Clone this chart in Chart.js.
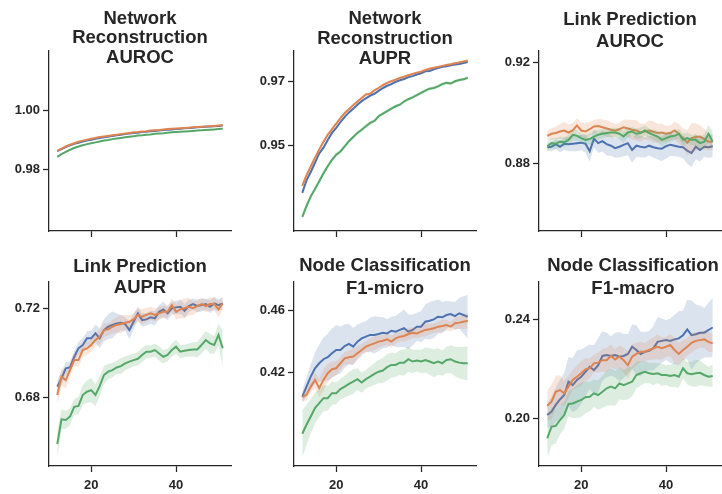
<!DOCTYPE html>
<html>
<head>
<meta charset="utf-8">
<script src="https://cdn.jsdelivr.net/npm/chart.js@4.4.1/dist/chart.umd.min.js"></script>
<style>
html,body{margin:0;padding:0;background:#fff;width:722px;height:494px;overflow:hidden;}
.panel{position:absolute;}
</style>
</head>
<body>
<script>
// ---------------- DATA ----------------
const xValues = [12,13,14,15,16,17,18,19,20,21,22,23,24,25,26,27,28,29,30,31,32,33,34,35,36,37,38,39,40,41,42,43,44,45,46,47,48,49,50,51];
const xTicks = [20, 40];

// Network Reconstruction AUROC
const nrAurocBlue = [.9861,.9868,.9875,.9881,.9886,.9890,.9894,.9897,.9900,.9903,
 .9906,.9908,.9910,.9913,.9915,.9917,.9919,.9921,.9923,.9924,
 .9926,.9927,.9929,.9930,.9931,.9933,.9934,.9935,.9936,.9937,
 .9939,.9940,.9941,.9942,.9943,.9944,.9945,.9946,.9947,.9948];
const nrAurocOrange = [.9862,.9870,.9877,.9883,.9888,.9893,.9897,.9900,.9903,.9906,
 .9909,.9911,.9913,.9915,.9917,.9919,.9921,.9923,.9925,.9926,
 .9928,.9929,.9931,.9932,.9933,.9935,.9936,.9937,.9938,.9939,
 .9940,.9941,.9942,.9943,.9944,.9945,.9946,.9947,.9948,.9949];
const nrAurocGreen = [.9842,.9851,.9859,.9866,.9872,.9877,.9881,.9885,.9888,.9891,
 .9894,.9897,.9899,.9902,.9904,.9906,.9908,.9910,.9912,.9914,
 .9915,.9917,.9918,.9920,.9921,.9922,.9924,.9925,.9926,.9927,
 .9928,.9929,.9930,.9931,.9932,.9933,.9934,.9935,.9936,.9937];
const nrAurocBlueHw = [.0003,.0003,.0003,.0002,.0002,.0002,.0002,.0002,.0002,.0002,
 .0002,.0002,.0002,.0002,.0002,.0002,.0002,.0002,.0002,.0002,
 .0001,.0001,.0001,.0001,.0001,.0001,.0001,.0001,.0001,.0001,
 .0001,.0001,.0001,.0001,.0001,.0001,.0001,.0001,.0001,.0001];
const nrAurocOrangeHw = [.0003,.0003,.0003,.0002,.0002,.0002,.0002,.0002,.0002,.0002,
 .0002,.0002,.0002,.0002,.0002,.0002,.0002,.0002,.0002,.0002,
 .0001,.0001,.0001,.0001,.0001,.0001,.0001,.0001,.0001,.0001,
 .0001,.0001,.0001,.0001,.0001,.0001,.0001,.0001,.0001,.0001];
const nrAurocGreenHw = [.0004,.0003,.0003,.0003,.0003,.0002,.0002,.0002,.0002,.0002,
 .0002,.0002,.0002,.0002,.0002,.0002,.0002,.0002,.0002,.0002,
 .0002,.0001,.0001,.0001,.0001,.0001,.0001,.0001,.0001,.0001,
 .0001,.0001,.0001,.0001,.0001,.0001,.0001,.0001,.0001,.0001];
const nrAurocTicks = [0.98, 1.00];

// Network Reconstruction AUPR
const nrAuprBlue = [.9353,.9392,.9418,.9447,.9476,.9494,.9518,.9540,.9556,.9574,
 .9590,.9604,.9615,.9628,.9639,.9648,.9656,.9662,.9671,.9680,
 .9687,.9692,.9699,.9704,.9708,.9714,.9717,.9722,.9726,.9732,
 .9733,.9738,.9742,.9746,.9748,.9751,.9753,.9755,.9758,.9761];
const nrAuprOrange = [.9375,.9408,.9435,.9463,.9488,.9512,.9534,.9552,.9569,.9586,
 .9602,.9614,.9626,.9638,.9649,.9660,.9662,.9673,.9680,.9689,
 .9696,.9701,.9706,.9711,.9715,.9720,.9724,.9728,.9731,.9736,
 .9740,.9743,.9746,.9749,.9752,.9754,.9757,.9760,.9763,.9766];
const nrAuprGreen = [.9278,.9312,.9342,.9365,.9389,.9414,.9436,.9456,.9472,.9482,
 .9498,.9514,.9527,.9540,.9550,.9561,.9571,.9577,.9592,.9600,
 .9608,.9616,.9623,.9628,.9638,.9645,.9651,.9658,.9665,.9672,
 .9678,.9680,.9685,.9692,.9696,.9694,.9701,.9705,.9707,.9712];
const nrAuprBlueHw = [.0007,.0006,.0006,.0006,.0005,.0005,.0005,.0005,.0005,.0005,
 .0005,.0004,.0004,.0004,.0004,.0004,.0004,.0004,.0004,.0004,
 .0004,.0004,.0004,.0004,.0004,.0004,.0003,.0003,.0003,.0003,
 .0003,.0003,.0003,.0003,.0003,.0003,.0003,.0003,.0003,.0003];
const nrAuprOrangeHw = [.0007,.0006,.0006,.0006,.0005,.0005,.0005,.0005,.0005,.0005,
 .0005,.0004,.0004,.0004,.0004,.0004,.0004,.0004,.0004,.0004,
 .0004,.0004,.0004,.0004,.0004,.0004,.0003,.0003,.0003,.0003,
 .0003,.0003,.0003,.0003,.0003,.0003,.0003,.0003,.0003,.0003];
const nrAuprGreenHw = [.0010,.0009,.0009,.0008,.0008,.0008,.0007,.0007,.0007,.0007,
 .0006,.0006,.0006,.0006,.0006,.0006,.0006,.0005,.0005,.0005,
 .0005,.0005,.0005,.0005,.0005,.0005,.0005,.0005,.0005,.0005,
 .0005,.0005,.0005,.0005,.0005,.0005,.0005,.0005,.0005,.0005];
const nrAuprTicks = [0.95, 0.97];

// Link Prediction AUROC
const lpAurocBlue = [.8866,.8868,.8878,.8868,.8880,.8878,.8880,.8882,.8884,.8880,
 .8850,.8900,.8882,.8890,.8878,.8872,.8862,.8868,.8875,.8882,
 .8855,.8872,.8868,.8865,.8872,.8866,.8862,.8860,.8870,.8876,
 .8872,.8868,.8866,.8852,.8843,.8868,.8855,.8868,.8866,.8870];
const lpAurocOrange = [.8911,.8919,.8922,.8928,.8932,.8924,.8932,.8952,.8932,.8928,
 .8937,.8948,.8950,.8945,.8940,.8935,.8931,.8937,.8945,.8940,
 .8935,.8932,.8924,.8928,.8932,.8927,.8922,.8924,.8919,.8922,
 .8932,.8919,.8902,.8884,.8902,.8906,.8908,.8898,.8888,.8888];
const lpAurocGreen = [.8870,.8882,.8880,.8888,.8886,.8895,.8915,.8911,.8902,.8895,
 .8898,.8908,.8915,.8919,.8922,.8924,.8924,.8919,.8908,.8924,
 .8928,.8919,.8922,.8932,.8922,.8915,.8908,.8895,.8902,.8908,
 .8911,.8919,.8895,.8902,.8895,.8895,.8882,.8888,.8919,.8888];
const lpAurocBlueHw = [.0015,.0018,.0020,.0022,.0025,.0028,.0030,.0032,.0030,.0035,
 .0040,.0035,.0038,.0042,.0045,.0040,.0038,.0042,.0045,.0048,
 .0050,.0045,.0042,.0040,.0038,.0042,.0045,.0048,.0050,.0045,
 .0042,.0040,.0045,.0050,.0055,.0050,.0045,.0040,.0042,.0045];
const lpAurocOrangeHw = [.0020,.0022,.0025,.0030,.0035,.0032,.0030,.0028,.0032,.0035,
 .0030,.0025,.0028,.0030,.0032,.0030,.0028,.0025,.0030,.0035,
 .0038,.0040,.0035,.0032,.0040,.0042,.0038,.0035,.0032,.0030,
 .0035,.0040,.0038,.0050,.0060,.0055,.0045,.0040,.0035,.0030];
const lpAurocGreenHw = [.0018,.0020,.0022,.0020,.0018,.0020,.0022,.0020,.0018,.0020,
 .0022,.0025,.0020,.0018,.0016,.0018,.0020,.0022,.0025,.0020,
 .0018,.0020,.0022,.0020,.0018,.0020,.0022,.0025,.0022,.0020,
 .0018,.0020,.0025,.0022,.0020,.0022,.0025,.0030,.0035,.0040];
const lpAurocTicks = [0.88, 0.92];

// Link Prediction AUPR
const lpAuprBlue = [.6846,.6884,.6929,.6933,.6981,.7019,.7034,.7064,.7064,.7086,
 .7064,.7101,.7116,.7124,.7131,.7134,.7128,.7101,.7138,.7176,
 .7146,.7149,.7158,.7154,.7183,.7194,.7176,.7199,.7203,.7206,
 .7188,.7209,.7218,.7209,.7213,.7218,.7206,.7221,.7213,.7221];
const lpAuprOrange = [.6809,.6891,.6876,.6921,.6966,.6966,.7011,.7019,.7034,.7056,
 .7071,.7101,.7104,.7116,.7124,.7128,.7134,.7138,.7149,.7169,
 .7161,.7169,.7176,.7169,.7176,.7183,.7183,.7213,.7183,.7194,
 .7199,.7206,.7199,.7209,.7218,.7209,.7218,.7218,.7194,.7221];
const lpAuprGreen = [.6589,.6700,.6697,.6712,.6756,.6760,.6809,.6824,.6831,.6809,
 .6849,.6899,.6914,.6921,.6933,.6939,.6951,.6959,.6966,.6972,
 .6989,.7004,.7004,.7011,.6996,.6981,.6989,.7011,.7026,.7004,
 .7008,.7011,.7014,.7014,.7034,.7056,.7041,.7034,.7079,.7019];
const lpAuprBlueHw = [.0030,.0030,.0028,.0025,.0025,.0028,.0030,.0032,.0035,.0040,
 .0045,.0050,.0055,.0060,.0045,.0035,.0030,.0040,.0035,.0030,
 .0030,.0028,.0030,.0032,.0030,.0035,.0030,.0028,.0030,.0032,
 .0030,.0028,.0025,.0028,.0030,.0025,.0028,.0030,.0025,.0028];
const lpAuprOrangeHw = [.0045,.0040,.0035,.0030,.0028,.0030,.0032,.0030,.0028,.0030,
 .0032,.0030,.0028,.0030,.0035,.0040,.0035,.0030,.0028,.0030,
 .0035,.0032,.0030,.0028,.0030,.0025,.0028,.0030,.0035,.0040,
 .0045,.0040,.0030,.0028,.0025,.0028,.0030,.0028,.0035,.0030];
const lpAuprGreenHw = [.0060,.0045,.0040,.0038,.0035,.0040,.0045,.0050,.0055,.0050,
 .0045,.0040,.0035,.0032,.0030,.0035,.0032,.0030,.0028,.0030,
 .0032,.0030,.0028,.0030,.0032,.0030,.0028,.0030,.0032,.0030,
 .0028,.0030,.0032,.0035,.0038,.0040,.0045,.0040,.0050,.0080];
const lpAuprTicks = [0.68, 0.72];

// Node Classification F1-micro
const ncMicroBlue = [.4046,.4110,.4174,.4228,.4260,.4286,.4299,.4324,.4345,.4345,
 .4371,.4384,.4367,.4399,.4420,.4431,.4442,.4442,.4448,.4456,
 .4452,.4469,.4463,.4474,.4485,.4463,.4474,.4495,.4495,.4527,
 .4533,.4542,.4559,.4555,.4570,.4576,.4563,.4581,.4570,.4559];
const ncMicroOrange = [.4042,.4057,.4110,.4153,.4100,.4153,.4196,.4222,.4228,.4260,
 .4292,.4299,.4303,.4324,.4345,.4367,.4378,.4388,.4399,.4405,
 .4414,.4399,.4420,.4431,.4435,.4448,.4456,.4452,.4463,.4474,
 .4478,.4485,.4495,.4499,.4506,.4495,.4517,.4521,.4527,.4533];
const ncMicroGreen = [.3807,.3865,.3918,.3972,.4004,.4036,.4036,.4068,.4068,.4094,
 .4110,.4128,.4142,.4158,.4136,.4158,.4174,.4192,.4206,.4213,
 .4235,.4249,.4249,.4264,.4264,.4286,.4271,.4277,.4271,.4281,
 .4271,.4260,.4271,.4260,.4281,.4286,.4271,.4264,.4260,.4260];
const ncMicroBlueHw = [.0040,.0060,.0080,.0100,.0120,.0140,.0150,.0160,.0160,.0150,
 .0140,.0130,.0120,.0110,.0100,.0100,.0110,.0120,.0110,.0100,
 .0090,.0090,.0100,.0110,.0120,.0110,.0100,.0090,.0100,.0110,
 .0120,.0120,.0110,.0100,.0090,.0080,.0090,.0100,.0120,.0140];
const ncMicroOrangeHw = [.0030,.0035,.0040,.0050,.0060,.0070,.0060,.0050,.0045,.0040,
 .0040,.0045,.0050,.0045,.0040,.0035,.0040,.0045,.0040,.0035,
 .0035,.0040,.0035,.0030,.0035,.0040,.0035,.0030,.0035,.0040,
 .0035,.0030,.0035,.0040,.0035,.0030,.0035,.0040,.0045,.0050];
const ncMicroGreenHw = [.0150,.0130,.0110,.0100,.0090,.0085,.0080,.0075,.0070,.0065,
 .0070,.0075,.0080,.0070,.0065,.0060,.0065,.0070,.0075,.0080,
 .0085,.0080,.0075,.0080,.0085,.0080,.0075,.0070,.0075,.0080,
 .0085,.0090,.0085,.0080,.0085,.0090,.0095,.0100,.0105,.0110];
const ncMicroTicks = [0.42, 0.46];

// Node Classification F1-macro
const ncMacroBlue = [.2012,.2026,.2053,.2075,.2093,.2147,.2133,.2154,.2167,.2187,
 .2207,.2194,.2214,.2251,.2255,.2251,.2255,.2248,.2251,.2259,
 .2288,.2275,.2259,.2268,.2272,.2282,.2308,.2312,.2315,.2312,
 .2318,.2322,.2335,.2358,.2335,.2339,.2345,.2345,.2356,.2366];
const ncMacroOrange = [.2050,.2066,.2106,.2113,.2100,.2127,.2154,.2167,.2181,.2197,
 .2201,.2221,.2224,.2234,.2234,.2251,.2237,.2248,.2234,.2214,
 .2248,.2259,.2268,.2268,.2275,.2282,.2288,.2282,.2288,.2295,
 .2275,.2259,.2275,.2288,.2304,.2312,.2315,.2318,.2308,.2302];
const ncMacroGreen = [.1918,.1965,.1968,.1992,.2012,.2057,.2059,.2066,.2073,.2084,
 .2086,.2100,.2093,.2106,.2120,.2127,.2120,.2140,.2133,.2140,
 .2147,.2174,.2181,.2187,.2181,.2178,.2181,.2174,.2174,.2170,
 .2174,.2167,.2201,.2181,.2177,.2181,.2183,.2174,.2167,.2170];
const ncMacroBlueHw = [.0050,.0060,.0070,.0080,.0090,.0100,.0110,.0120,.0110,.0100,
 .0090,.0100,.0110,.0100,.0090,.0080,.0090,.0100,.0090,.0080,
 .0090,.0100,.0090,.0080,.0080,.0090,.0100,.0090,.0080,.0090,
 .0100,.0110,.0100,.0120,.0140,.0120,.0110,.0100,.0110,.0120];
const ncMacroOrangeHw = [.0060,.0070,.0065,.0060,.0050,.0045,.0040,.0045,.0050,.0045,
 .0040,.0035,.0040,.0045,.0050,.0045,.0040,.0045,.0050,.0055,
 .0050,.0045,.0040,.0035,.0040,.0045,.0050,.0045,.0040,.0045,
 .0050,.0045,.0040,.0035,.0040,.0035,.0030,.0035,.0040,.0035];
const ncMacroGreenHw = [.0080,.0075,.0070,.0060,.0055,.0050,.0060,.0065,.0070,.0065,
 .0060,.0055,.0060,.0065,.0070,.0075,.0070,.0065,.0060,.0065,
 .0060,.0055,.0050,.0045,.0040,.0045,.0040,.0045,.0040,.0045,
 .0050,.0045,.0040,.0045,.0050,.0055,.0050,.0045,.0040,.0045];
const ncMacroTicks = [0.20, 0.24];

// ---------------- STYLE / LAYOUT ----------------
const COLORS = {blue:'#4c72b0', orange:'#dd8452', green:'#55a868'};
const BANDS = {blue:'rgba(76,114,176,0.2)', orange:'rgba(221,132,82,0.2)', green:'rgba(85,168,104,0.2)'};
const INK = '#262626';
const FONT = "'Liberation Sans', Arial, Helvetica, sans-serif";
const Y_AXIS_W = 48;

const panels = [
  {title:['Network','Reconstruction','AUROC'], tOff:[-32,-12.5,7.5], left:49, top:50.5, right:231, bottom:231, ymin:0.9590, ymax:1.0203, ticks:nrAurocTicks, showX:false,
   s:{blue:[nrAurocBlue,nrAurocBlueHw], orange:[nrAurocOrange,nrAurocOrangeHw], green:[nrAurocGreen,nrAurocGreenHw]}},
  {title:['Network','Reconstruction','AUPR'], tOff:[-31.5,-12,8.5], left:294, top:50.5, right:476, bottom:231, ymin:0.9234, ymax:0.9797, ticks:nrAuprTicks, showX:false,
   s:{blue:[nrAuprBlue,nrAuprBlueHw], orange:[nrAuprOrange,nrAuprOrangeHw], green:[nrAuprGreen,nrAuprGreenHw]}},
  {title:['Link Prediction','AUROC'], tOff:[-30.5,-9], left:539, top:50.5, right:721, bottom:231, ymin:0.8535, ymax:0.9248, ticks:lpAurocTicks, showX:false,
   s:{blue:[lpAurocBlue,lpAurocBlueHw], orange:[lpAurocOrange,lpAurocOrangeHw], green:[lpAurocGreen,lpAurocGreenHw]}},
  {title:['Link Prediction','AUPR'], tOff:[-15.5,5.5], left:49, top:282, right:231, bottom:466, ymin:0.649, ymax:0.7317, ticks:lpAuprTicks, showX:true,
   s:{blue:[lpAuprBlue,lpAuprBlueHw], orange:[lpAuprOrange,lpAuprOrangeHw], green:[lpAuprGreen,lpAuprGreenHw]}},
  {title:['Node Classification','F1-micro'], tOff:[-16,6.5], left:294, top:282, right:476, bottom:466, ymin:0.360, ymax:0.4782, ticks:ncMicroTicks, showX:true,
   s:{blue:[ncMicroBlue,ncMicroBlueHw], orange:[ncMicroOrange,ncMicroOrangeHw], green:[ncMicroGreen,ncMicroGreenHw]}},
  {title:['Node Classification','F1-macro'], tOff:[-16,6.5], dx:3, left:539, top:282, right:721, bottom:466, ymin:0.1806, ymax:0.255, ticks:ncMacroTicks, showX:true,
   s:{blue:[ncMacroBlue,ncMacroBlueHw], orange:[ncMacroOrange,ncMacroOrangeHw], green:[ncMacroGreen,ncMacroGreenHw]}},
];

const panelTitle = {
  id:'panelTitle',
  afterDraw(chart, args, opts){
    const {ctx, chartArea} = chart;
    ctx.save();
    ctx.font = 'bold 18.5px ' + FONT;
    ctx.fillStyle = INK;
    ctx.textAlign = 'center';
    ctx.textBaseline = 'middle';
    const cx = (chartArea.left + chartArea.right)/2 + (opts.dx || 0);
    opts.lines.forEach((t,i) => ctx.fillText(t, cx, chartArea.top + opts.offsets[i]));
    ctx.restore();
  }
};

function pts(arr){ return xValues.map((x,i)=>({x:x, y:arr[i]})); }

panels.forEach((p, idx) => {
  const rowTop = p.top < 200 ? 0 : 247;
  const xAxisH = 28;
  const div = document.createElement('div');
  div.className = 'panel';
  const divLeft = p.left - Y_AXIS_W;
  const w = (p.right - p.left) + Y_AXIS_W + 2;
  const h = (p.bottom - rowTop) + xAxisH;
  div.style.left = divLeft + 'px';
  div.style.top = rowTop + 'px';
  div.style.width = w + 'px';
  div.style.height = h + 'px';
  const cv = document.createElement('canvas');
  div.appendChild(cv);
  document.body.appendChild(div);

  const datasets = [];
  const order = ['green','orange','blue'];
  order.forEach((c, k) => {
    const [mean, hw] = p.s[c];
    datasets.push({label:c, data:pts(mean), borderColor:COLORS[c], borderWidth:2, pointRadius:0, fill:false, order:k*2, tension:0});
  });
  order.forEach((c, k) => {
    const [mean, hw] = p.s[c];
    datasets.push({label:c+'-lo', data:pts(mean.map((m,i)=>m-hw[i])), borderWidth:0, borderColor:'rgba(0,0,0,0)', pointRadius:0, fill:false, order:k*2+1});
    datasets.push({label:c+'-hi', data:pts(mean.map((m,i)=>m+hw[i])), borderWidth:0, borderColor:'rgba(0,0,0,0)', pointRadius:0, fill:'-1', backgroundColor:BANDS[c], order:k*2+1});
  });

  new Chart(cv, {
    type:'line',
    data:{datasets},
    options:{
      responsive:true, maintainAspectRatio:false, animation:false, devicePixelRatio:1,
      events:[],
      layout:{autoPadding:false, padding:{left:0, right:2, top:p.top - rowTop, bottom:0}},
      plugins:{legend:{display:false}, tooltip:{enabled:false}, title:{display:false},
        panelTitle:{lines:p.title, offsets:p.tOff, dx:p.dx||0}},
      scales:{
        x:{type:'linear', min:10.05, max:52.95,
          afterBuildTicks:(s)=>{ s.ticks = xTicks.map(v=>({value:v})); },
          afterFit:(s)=>{ s.height = xAxisH; },
          grid:{display:true, drawOnChartArea:false, drawTicks:true, tickLength:6, tickWidth:1.25, tickColor:INK},
          border:{display:true, color:INK, width:1.25},
          ticks:{display:p.showX, color:INK, font:{family:FONT, size:13, weight:'bold'}, padding:6, maxRotation:0, callback:(v)=>String(v)}
        },
        y:{type:'linear', min:p.ymin, max:p.ymax,
          afterBuildTicks:(s)=>{ s.ticks = p.ticks.map(v=>({value:v})); },
          afterFit:(s)=>{ s.width = Y_AXIS_W; },
          grid:{display:true, drawOnChartArea:false, drawTicks:true, tickLength:6, tickWidth:1.25, tickColor:INK},
          border:{display:true, color:INK, width:1.25},
          ticks:{color:INK, font:{family:FONT, size:13, weight:'bold'}, padding:3, callback:(v)=>Number(v).toFixed(2)}
        }
      }
    },
    plugins:[panelTitle]
  });
});
</script>
</body>
</html>
